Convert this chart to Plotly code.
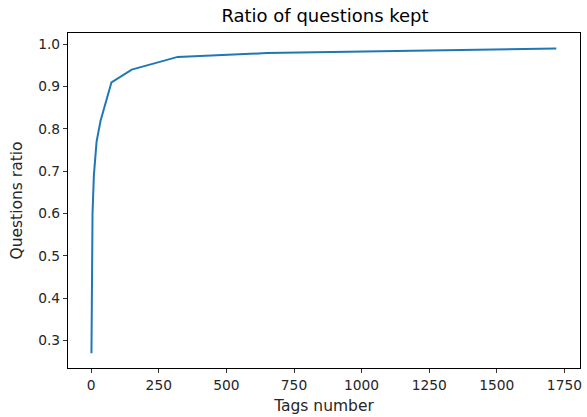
import plotly.graph_objects as go

# Number of most frequent tags kept vs. share of questions still covered
tags_number = [1, 2, 3, 5, 10, 15, 20, 35, 75, 150, 320, 650, 1720]
questions_ratio = [0.27, 0.42, 0.52, 0.60, 0.69, 0.74, 0.77, 0.82, 0.91, 0.94, 0.97, 0.979, 0.99]

x_ticks = [0, 250, 500, 750, 1000, 1250, 1500, 1750]
y_ticks = [0.3, 0.4, 0.5, 0.6, 0.7, 0.8, 0.9, 1.0]

font_family = "DejaVu Sans"
text_color = "#262626"

fig = go.Figure(
    go.Scatter(
        x=tags_number,
        y=questions_ratio,
        mode="lines",
        line=dict(color="#1f77b4", width=2),
        hoverinfo="x+y",
    )
)

axis_common = dict(
    showline=True,
    linecolor="black",
    linewidth=1.2,
    mirror=True,
    ticks="outside",
    ticklen=4,
    tickwidth=1,
    tickcolor="#333",
    showgrid=False,
    zeroline=False,
    tickfont=dict(family=font_family, size=13.8, color=text_color),
)

fig.update_layout(
    width=587,
    height=417,
    margin=dict(l=68, r=5, t=33, b=49),
    paper_bgcolor="white",
    plot_bgcolor="white",
    showlegend=False,
    title=dict(
        text="Ratio of questions kept",
        x=(68 + 582) / 2 / 587,
        xanchor="center",
        y=1 - 16 / 417,
        yanchor="middle",
        font=dict(family=font_family, size=18, color="black"),
    ),
    xaxis=dict(
        axis_common,
        range=[-85.7, 1807.6],
        tickvals=x_ticks,
        ticktext=[str(v) for v in x_ticks],
        title=dict(
            text="Tags number",
            font=dict(family=font_family, size=15.5, color=text_color),
            standoff=8,
        ),
    ),
    yaxis=dict(
        axis_common,
        range=[0.235, 1.0265],
        tickvals=y_ticks,
        ticktext=[f"{v:.1f}" for v in y_ticks],
        title=dict(
            text="Questions ratio",
            font=dict(family=font_family, size=15.5, color=text_color),
            standoff=11,
        ),
    ),
)

fig.write_html("out.html")
